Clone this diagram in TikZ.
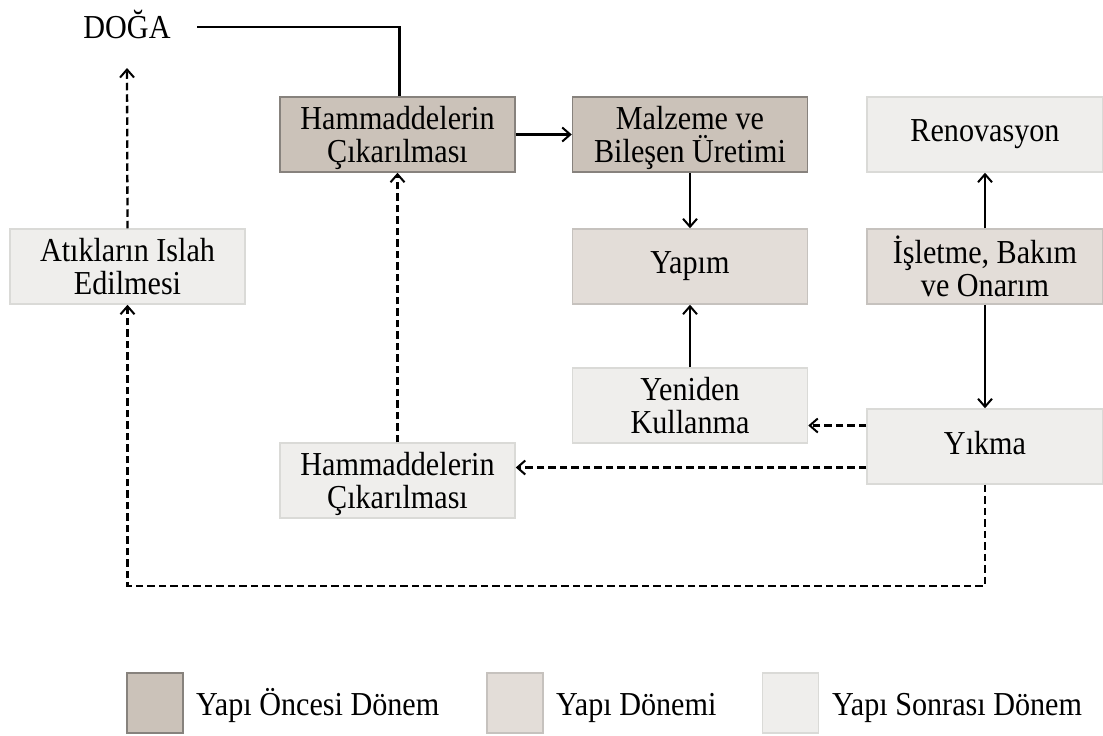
\documentclass[tikz,border=0pt]{standalone}
\usepackage{fontspec}
\setmainfont{Liberation Serif}[FakeStretch=0.9]
\usetikzlibrary{arrows.meta}
\definecolor{darkfill}{RGB}{203,194,185}
\definecolor{midfill}{RGB}{227,221,216}
\definecolor{lightfill}{RGB}{239,238,236}
\definecolor{darkline}{RGB}{135,130,125}
\definecolor{midline}{RGB}{198,194,190}
\definecolor{lightline}{RGB}{218,218,215}
\tikzset{
  box/.style={minimum width=235pt, minimum height=75pt, align=center, inner sep=0pt,
    line width=1.5pt, text depth=7pt, font=\fontsize{33.5}{33}\selectfont},
  two/.style={text depth=-5pt},
  prebox/.style={box, fill=darkfill, draw=darkline},
  durbox/.style={box, fill=midfill, draw=midline},
  postbox/.style={box, fill=lightfill, draw=lightline},
  tip/.style={-{Straight Barb[length=8pt,width=14pt,line width=2pt]}},
  solidarrow/.style={tip, line width=2.3pt},
  dasharrow/.style={tip, line width=2.3pt, dash pattern=on 7.5pt off 4pt},
  legsq/.style={minimum width=56pt, minimum height=60pt, inner sep=0pt, line width=1.6pt},
  legtext/.style={anchor=base west, inner sep=0pt, font=\fontsize{33.5}{32}\selectfont}
}
\begin{document}
\begin{tikzpicture}[x=1pt,y=-1pt]
\useasboundingbox[fill=white] (0,0) rectangle (1103,736);

\node[anchor=base, inner sep=0pt, font=\fontsize{33.5}{33}\selectfont] (doga) at (127,38) {DOĞA};

\node[prebox, two] (h1) at (397.5,134.5) {Hammaddelerin\\Çıkarılması};
\node[prebox, two] (malz) at (690,134.5) {Malzeme ve\\Bileşen Üretimi};
\node[postbox, minimum width=236pt] (reno) at (985,134.5) {Renovasyon};
\node[postbox, two] (atik) at (127.5,266.5) {Atıkların Islah\\Edilmesi};
\node[durbox] (yapim) at (690,266.5) {Yapım};
\node[durbox, two, minimum width=236pt] (islet) at (985,266.5) {İşletme, Bakım\\ve Onarım};
\node[postbox, two] (yeni) at (690,405.5) {Yeniden\\Kullanma};
\node[postbox, minimum width=236pt] (yikma) at (985,446.5) {Yıkma};
\node[postbox, two] (h2) at (397.5,480.5) {Hammaddelerin\\Çıkarılması};

% connectors
\coordinate (dstart) at (197,27);
\draw[line width=2.3pt] (dstart) -| ([xshift=2pt]h1.north);
\draw[solidarrow] (h1.east) -- (malz.west);
\draw[solidarrow] (malz.south) -- (yapim.north);
\draw[solidarrow] (yeni.north) -- (yapim.south);
\draw[solidarrow] (islet.north) -- (reno.south);
\draw[solidarrow] (islet.south) -- (yikma.north);

\coordinate (ye) at ([yshift=-20pt]yeni.east);
\draw[dasharrow] (ye -| yikma.west) -- (ye);
\coordinate (he) at ([yshift=13pt]h2.east);
\draw[dasharrow] (he -| yikma.west) -- (he);
\draw[dasharrow] (h2.north) -- (h1.south);
\draw[dasharrow] (yikma.south) -- ++(0,101) -| (atik.south);
\coordinate (dtip) at (127,68);
\draw[dasharrow] (atik.north) -- (dtip);

% legend
\node[legsq, fill=darkfill, draw=darkline] (l1) at (155,703) {};
\node[legtext] (t1) at (196,715.5) {Yapı Öncesi Dönem};
\node[legsq, fill=midfill, draw=midline] (l2) at (515,703) {};
\node[legtext] (t2) at (556,715.5) {Yapı Dönemi};
\node[legsq, fill=lightfill, draw=lightline] (l3) at (790.5,703) {};
\node[legtext] (t3) at (832,715.5) {Yapı Sonrası Dönem};
\end{tikzpicture}
\end{document}
